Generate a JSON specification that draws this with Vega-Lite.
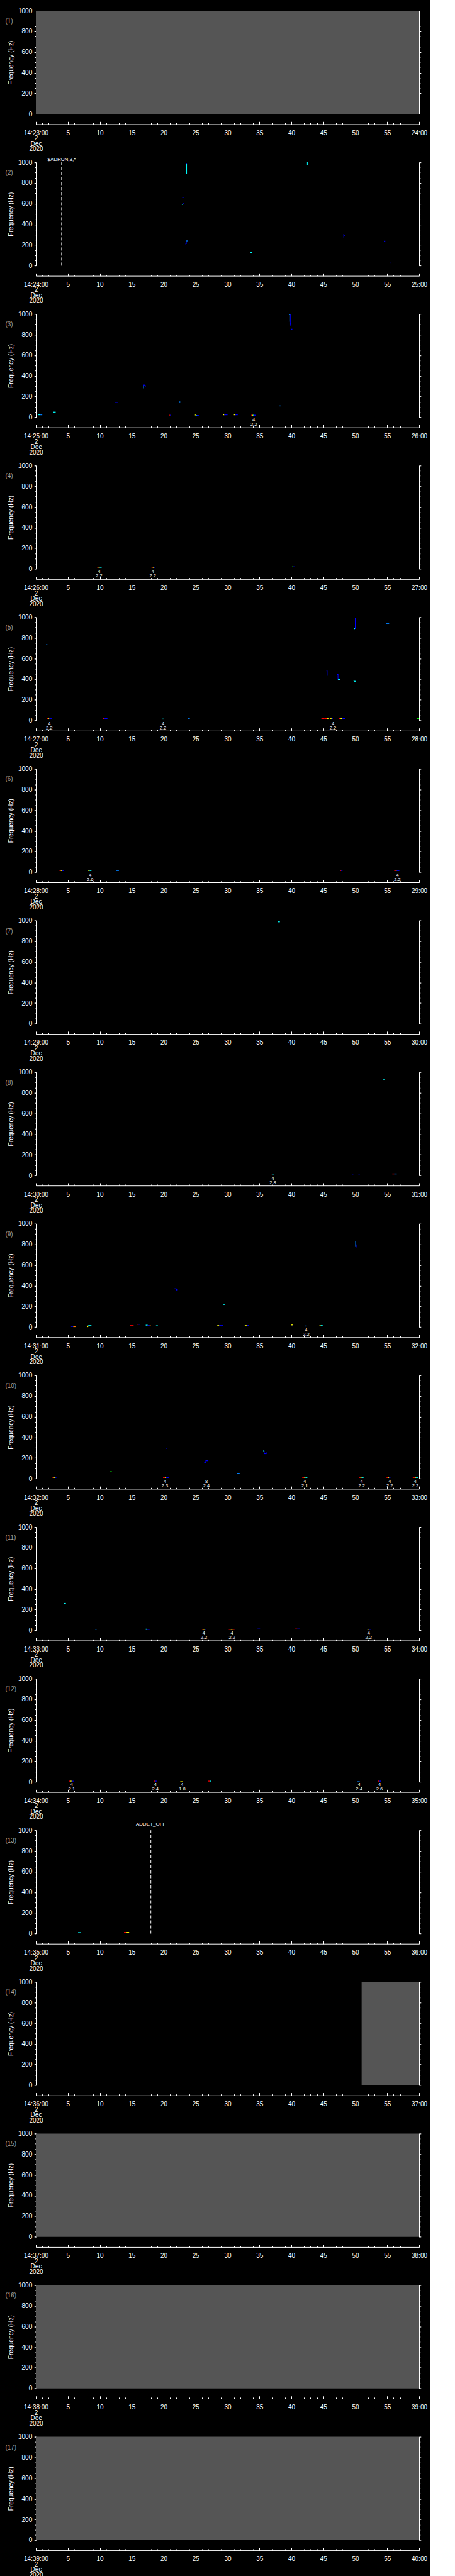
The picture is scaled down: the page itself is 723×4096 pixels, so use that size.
{"$schema":"https://vega.github.io/schema/vega-lite/v6.json","background":"black","padding":{"left":8,"top":12,"right":5,"bottom":5},"autosize":{"type":"pad"},"spacing":76.1,"bounds":"flush",
"config":{"numberFormat":"d","view":{"stroke":null},"text":{"color":"white","font":"Liberation Sans"},
"axis":{"grid":false,"domainColor":"white","tickColor":"white","labelColor":"white","titleColor":"white","labelFont":"Liberation Sans","labelFontSize":10,"titleFont":"Liberation Sans","titleFontSize":10.2,"titleFontWeight":"normal","domainWidth":1,"tickWidth":1},
"style":{"xmaj":{"tickSize":-4.2,"tickCount":12,"labelPadding":13,"offset":16.2,"labelFlush":false,"labelOverlap":false,"labelLineHeight":8.5,"labelBound":false},
"xmin":{"tickSize":-2.1,"tickCount":60,"labels":false,"offset":16.2,"domain":false},
"ymaj":{"tickSize":2.8,"tickCount":5,"labelPadding":3.5,"titlePadding":6},
"ymin":{"tickSize":1.8,"tickCount":20,"labels":false,"domain":false}}},
"datasets":{
"nodata":[{"p":1,"t":0,"t2":60,"f":0,"f2":1000},{"p":14,"t":51,"t2":60,"f":0,"f2":1000},{"p":15,"t":0,"t2":60,"f":0,"f2":1000},{"p":16,"t":0,"t2":60,"f":0,"f2":1000},{"p":17,"t":0,"t2":60,"f":0,"f2":1000}],
"spec":[
{"p":2,"t":23.55,"t2":23.65,"f":886,"f2":990,"v":3},{"p":2,"t":23.5,"t2":23.62,"f":985,"f2":995,"v":1},{"p":2,"t":42.45,"t2":42.55,"f":975,"f2":1000,"v":3},{"p":2,"t":22.9,"t2":23.15,"f":657,"f2":665,"v":1},{"p":2,"t":22.85,"t2":23.0,"f":590,"f2":598,"v":3},{"p":2,"t":23.0,"t2":23.15,"f":596,"f2":604,"v":1},{"p":2,"t":23.4,"t2":23.55,"f":206,"f2":214,"v":1},{"p":2,"t":23.5,"t2":23.6,"f":210,"f2":238,"v":1},{"p":2,"t":23.55,"t2":23.75,"f":236,"f2":244,"v":2},{"p":2,"t":33.6,"t2":33.8,"f":123,"f2":131,"v":3},{"p":2,"t":48.15,"t2":48.25,"f":272,"f2":306,"v":1},{"p":2,"t":48.2,"t2":48.4,"f":290,"f2":298,"v":1},{"p":2,"t":54.5,"t2":54.7,"f":233,"f2":241,"v":1},{"p":2,"t":55.55,"t2":55.65,"f":25,"f2":33,"v":1},
{"p":3,"t":0.4,"t2":0.7,"f":20,"f2":28,"v":3},{"p":3,"t":0.7,"t2":1.0,"f":20,"f2":28,"v":2},{"p":3,"t":2.7,"t2":3.1,"f":46,"f2":54,"v":3},{"p":3,"t":12.4,"t2":12.8,"f":138,"f2":146,"v":1},{"p":3,"t":16.8,"t2":16.9,"f":280,"f2":310,"v":2},{"p":3,"t":16.85,"t2":17.1,"f":308,"f2":316,"v":1},{"p":3,"t":17.05,"t2":17.2,"f":296,"f2":310,"v":1},{"p":3,"t":20.9,"t2":21.0,"f":17,"f2":25,"v":7},{"p":3,"t":21.0,"t2":21.1,"f":17,"f2":25,"v":1},{"p":3,"t":22.45,"t2":22.6,"f":145,"f2":153,"v":2},{"p":3,"t":24.9,"t2":25.05,"f":18,"f2":26,"v":5},{"p":3,"t":25.05,"t2":25.2,"f":14,"f2":22,"v":3},{"p":3,"t":25.2,"t2":25.5,"f":14,"f2":22,"v":1},{"p":3,"t":29.3,"t2":29.5,"f":20,"f2":28,"v":5},{"p":3,"t":29.5,"t2":30.0,"f":20,"f2":28,"v":1},{"p":3,"t":31.0,"t2":31.15,"f":20,"f2":28,"v":5},{"p":3,"t":31.15,"t2":31.25,"f":20,"f2":28,"v":3},{"p":3,"t":31.25,"t2":31.6,"f":20,"f2":28,"v":1},{"p":3,"t":33.7,"t2":33.85,"f":16,"f2":24,"v":7},{"p":3,"t":33.85,"t2":34.0,"f":16,"f2":24,"v":5},{"p":3,"t":34.0,"t2":34.15,"f":16,"f2":24,"v":3},{"p":3,"t":34.15,"t2":34.4,"f":16,"f2":24,"v":1},{"p":3,"t":38.1,"t2":38.4,"f":106,"f2":114,"v":2},{"p":3,"t":39.6,"t2":39.7,"f":925,"f2":935,"v":1},{"p":3,"t":39.65,"t2":39.72,"f":925,"f2":998,"v":2},{"p":3,"t":39.7,"t2":39.85,"f":990,"f2":998,"v":2},{"p":3,"t":39.8,"t2":39.88,"f":900,"f2":994,"v":1},{"p":3,"t":39.85,"t2":39.95,"f":880,"f2":910,"v":1},{"p":3,"t":39.92,"t2":40.0,"f":860,"f2":885,"v":1},{"p":3,"t":40.0,"t2":40.15,"f":848,"f2":856,"v":1},
{"p":4,"t":9.6,"t2":9.8,"f":12,"f2":20,"v":7},{"p":4,"t":9.8,"t2":10.0,"f":12,"f2":20,"v":5},{"p":4,"t":10.0,"t2":10.3,"f":12,"f2":20,"v":3},{"p":4,"t":18.1,"t2":18.3,"f":12,"f2":20,"v":7},{"p":4,"t":18.3,"t2":18.45,"f":12,"f2":20,"v":5},{"p":4,"t":18.45,"t2":18.7,"f":12,"f2":20,"v":1},{"p":4,"t":40.1,"t2":40.3,"f":16,"f2":24,"v":4},{"p":4,"t":40.3,"t2":40.6,"f":16,"f2":24,"v":1},
{"p":5,"t":1.6,"t2":1.8,"f":730,"f2":738,"v":2},{"p":5,"t":1.7,"t2":1.9,"f":14,"f2":22,"v":7},{"p":5,"t":1.9,"t2":2.1,"f":14,"f2":22,"v":5},{"p":5,"t":2.1,"t2":2.5,"f":14,"f2":22,"v":1},{"p":5,"t":10.5,"t2":10.75,"f":16,"f2":24,"v":7},{"p":5,"t":10.75,"t2":11.2,"f":16,"f2":24,"v":1},{"p":5,"t":19.7,"t2":20.1,"f":10,"f2":18,"v":3},{"p":5,"t":23.8,"t2":24.1,"f":14,"f2":22,"v":2},{"p":5,"t":45.5,"t2":45.6,"f":478,"f2":486,"v":1},{"p":5,"t":45.55,"t2":45.65,"f":434,"f2":484,"v":1},{"p":5,"t":47.1,"t2":47.3,"f":442,"f2":450,"v":1},{"p":5,"t":47.25,"t2":47.35,"f":395,"f2":448,"v":1},{"p":5,"t":47.3,"t2":47.6,"f":392,"f2":400,"v":3},{"p":5,"t":49.7,"t2":49.9,"f":386,"f2":394,"v":3},{"p":5,"t":49.85,"t2":50.1,"f":376,"f2":384,"v":3},{"p":5,"t":49.95,"t2":50.05,"f":888,"f2":996,"v":1},{"p":5,"t":49.85,"t2":49.95,"f":885,"f2":893,"v":3},{"p":5,"t":54.8,"t2":55.3,"f":936,"f2":944,"v":2},{"p":5,"t":44.7,"t2":45.2,"f":16,"f2":24,"v":7},{"p":5,"t":45.3,"t2":45.6,"f":16,"f2":24,"v":7},{"p":5,"t":45.6,"t2":45.8,"f":16,"f2":24,"v":5},{"p":5,"t":46.0,"t2":46.3,"f":14,"f2":22,"v":5},{"p":5,"t":46.3,"t2":46.5,"f":14,"f2":22,"v":1},{"p":5,"t":47.4,"t2":47.7,"f":16,"f2":24,"v":7},{"p":5,"t":47.7,"t2":48.0,"f":16,"f2":24,"v":5},{"p":5,"t":48.0,"t2":48.4,"f":16,"f2":24,"v":1},{"p":5,"t":59.6,"t2":60,"f":14,"f2":22,"v":4},
{"p":6,"t":3.7,"t2":3.9,"f":12,"f2":20,"v":7},{"p":6,"t":3.9,"t2":4.1,"f":12,"f2":20,"v":5},{"p":6,"t":4.1,"t2":4.4,"f":12,"f2":20,"v":1},{"p":6,"t":8.2,"t2":8.4,"f":12,"f2":20,"v":5},{"p":6,"t":8.4,"t2":8.7,"f":12,"f2":20,"v":3},{"p":6,"t":12.6,"t2":13.0,"f":12,"f2":20,"v":2},{"p":6,"t":47.6,"t2":47.8,"f":12,"f2":20,"v":7},{"p":6,"t":47.8,"t2":48.0,"f":12,"f2":20,"v":1},{"p":6,"t":56.1,"t2":56.35,"f":12,"f2":20,"v":7},{"p":6,"t":56.35,"t2":56.5,"f":12,"f2":20,"v":5},{"p":6,"t":56.5,"t2":56.9,"f":12,"f2":20,"v":1},
{"p":7,"t":37.9,"t2":38.2,"f":983,"f2":991,"v":3},
{"p":8,"t":54.3,"t2":54.6,"f":927,"f2":935,"v":3},{"p":8,"t":36.9,"t2":37.05,"f":10,"f2":18,"v":7},{"p":8,"t":37.05,"t2":37.3,"f":10,"f2":18,"v":3},{"p":8,"t":49.5,"t2":49.7,"f":2,"f2":8,"v":1},{"p":8,"t":50.5,"t2":50.7,"f":2,"f2":8,"v":1},{"p":8,"t":55.8,"t2":56.1,"f":11,"f2":19,"v":7},{"p":8,"t":56.1,"t2":56.5,"f":11,"f2":19,"v":2},
{"p":9,"t":50.0,"t2":50.1,"f":775,"f2":830,"v":2},{"p":9,"t":50.1,"t2":50.2,"f":770,"f2":800,"v":1},{"p":9,"t":21.7,"t2":22.0,"f":366,"f2":374,"v":1},{"p":9,"t":21.95,"t2":22.2,"f":355,"f2":366,"v":1},{"p":9,"t":29.3,"t2":29.6,"f":215,"f2":223,"v":3},{"p":9,"t":5.5,"t2":5.85,"f":2,"f2":10,"v":1},{"p":9,"t":5.85,"t2":6.2,"f":0,"f2":8,"v":6},{"p":9,"t":8.0,"t2":8.2,"f":0,"f2":14,"v":5},{"p":9,"t":8.2,"t2":8.7,"f":10,"f2":18,"v":3},{"p":9,"t":14.7,"t2":15.3,"f":10,"f2":18,"v":7},{"p":9,"t":15.8,"t2":16.0,"f":23,"f2":31,"v":7},{"p":9,"t":16.0,"t2":16.3,"f":23,"f2":31,"v":1},{"p":9,"t":17.2,"t2":17.5,"f":14,"f2":22,"v":3},{"p":9,"t":17.5,"t2":17.8,"f":10,"f2":18,"v":1},{"p":9,"t":17.8,"t2":18.0,"f":8,"f2":16,"v":6},{"p":9,"t":18.8,"t2":19.1,"f":8,"f2":16,"v":3},{"p":9,"t":28.4,"t2":28.7,"f":10,"f2":18,"v":5},{"p":9,"t":28.7,"t2":29.3,"f":10,"f2":18,"v":1},{"p":9,"t":32.7,"t2":33.0,"f":10,"f2":18,"v":5},{"p":9,"t":33.0,"t2":33.4,"f":10,"f2":18,"v":1},{"p":9,"t":40.0,"t2":40.2,"f":16,"f2":24,"v":5},{"p":9,"t":40.1,"t2":40.3,"f":6,"f2":14,"v":1},{"p":9,"t":42.1,"t2":42.4,"f":6,"f2":14,"v":2},{"p":9,"t":44.4,"t2":44.6,"f":10,"f2":18,"v":5},{"p":9,"t":44.6,"t2":44.9,"f":10,"f2":18,"v":3},
{"p":10,"t":2.6,"t2":2.8,"f":8,"f2":16,"v":7},{"p":10,"t":2.8,"t2":3.0,"f":8,"f2":16,"v":5},{"p":10,"t":3.0,"t2":3.2,"f":8,"f2":16,"v":1},{"p":10,"t":11.6,"t2":11.9,"f":63,"f2":71,"v":4},{"p":10,"t":20.4,"t2":20.5,"f":291,"f2":299,"v":1},{"p":10,"t":19.9,"t2":20.2,"f":8,"f2":16,"v":7},{"p":10,"t":20.2,"t2":20.4,"f":8,"f2":16,"v":5},{"p":10,"t":20.4,"t2":20.8,"f":8,"f2":16,"v":1},{"p":10,"t":26.35,"t2":26.6,"f":150,"f2":158,"v":1},{"p":10,"t":26.55,"t2":26.65,"f":150,"f2":178,"v":1},{"p":10,"t":26.6,"t2":27.0,"f":170,"f2":178,"v":1},{"p":10,"t":31.5,"t2":31.9,"f":48,"f2":56,"v":2},{"p":10,"t":35.6,"t2":35.75,"f":265,"f2":273,"v":3},{"p":10,"t":35.7,"t2":35.8,"f":240,"f2":270,"v":1},{"p":10,"t":35.75,"t2":36.1,"f":238,"f2":246,"v":1},{"p":10,"t":36.0,"t2":36.1,"f":238,"f2":258,"v":1},{"p":10,"t":41.7,"t2":42.0,"f":8,"f2":16,"v":7},{"p":10,"t":42.0,"t2":42.2,"f":8,"f2":16,"v":5},{"p":10,"t":42.2,"t2":42.5,"f":8,"f2":16,"v":3},{"p":10,"t":50.6,"t2":50.8,"f":8,"f2":16,"v":7},{"p":10,"t":50.8,"t2":51.0,"f":8,"f2":16,"v":5},{"p":10,"t":51.0,"t2":51.3,"f":8,"f2":16,"v":3},{"p":10,"t":54.9,"t2":55.1,"f":8,"f2":16,"v":7},{"p":10,"t":55.1,"t2":55.3,"f":8,"f2":16,"v":5},{"p":10,"t":55.3,"t2":55.5,"f":8,"f2":16,"v":1},{"p":10,"t":59.0,"t2":59.3,"f":8,"f2":16,"v":7},{"p":10,"t":59.3,"t2":59.5,"f":8,"f2":16,"v":5},{"p":10,"t":59.5,"t2":59.8,"f":8,"f2":16,"v":3},
{"p":11,"t":4.4,"t2":4.7,"f":254,"f2":264,"v":3},{"p":11,"t":9.3,"t2":9.5,"f":5,"f2":13,"v":2},{"p":11,"t":17.2,"t2":17.4,"f":5,"f2":15,"v":3},{"p":11,"t":17.4,"t2":17.8,"f":5,"f2":13,"v":1},{"p":11,"t":26.0,"t2":26.2,"f":5,"f2":13,"v":7},{"p":11,"t":26.2,"t2":26.4,"f":5,"f2":13,"v":5},{"p":11,"t":26.4,"t2":26.6,"f":5,"f2":13,"v":1},{"p":11,"t":30.2,"t2":30.5,"f":5,"f2":13,"v":7},{"p":11,"t":30.5,"t2":30.8,"f":5,"f2":13,"v":5},{"p":11,"t":30.8,"t2":31.1,"f":5,"f2":13,"v":7},{"p":11,"t":34.7,"t2":35.1,"f":8,"f2":16,"v":1},{"p":11,"t":40.6,"t2":40.9,"f":8,"f2":16,"v":7},{"p":11,"t":40.9,"t2":41.3,"f":8,"f2":16,"v":1},{"p":11,"t":51.9,"t2":52.1,"f":5,"f2":13,"v":5},{"p":11,"t":52.1,"t2":52.4,"f":5,"f2":13,"v":1},
{"p":12,"t":5.2,"t2":5.4,"f":4,"f2":12,"v":7},{"p":12,"t":5.4,"t2":5.6,"f":4,"f2":12,"v":5},{"p":12,"t":5.6,"t2":5.9,"f":4,"f2":12,"v":1},{"p":12,"t":18.5,"t2":18.7,"f":4,"f2":12,"v":7},{"p":12,"t":18.7,"t2":18.9,"f":4,"f2":12,"v":1},{"p":12,"t":22.6,"t2":23.0,"f":0,"f2":6,"v":5},{"p":12,"t":27.0,"t2":27.2,"f":4,"f2":12,"v":7},{"p":12,"t":27.2,"t2":27.4,"f":4,"f2":12,"v":3},{"p":12,"t":50.35,"t2":50.7,"f":0,"f2":6,"v":2},{"p":12,"t":53.5,"t2":53.7,"f":4,"f2":12,"v":7},{"p":12,"t":53.7,"t2":54.0,"f":4,"f2":12,"v":1},
{"p":13,"t":6.6,"t2":7.0,"f":5,"f2":13,"v":3},{"p":13,"t":13.8,"t2":14.2,"f":7,"f2":15,"v":7},{"p":13,"t":14.2,"t2":14.6,"f":7,"f2":15,"v":5}],
"notes":[{"p":3,"t":34.1,"s":"4\n2.2"},{"p":4,"t":9.9,"s":"4\n2.2"},{"p":4,"t":18.3,"s":"4\n2.2"},{"p":5,"t":2.1,"s":"4\n2.2"},{"p":5,"t":19.9,"s":"4\n2.2"},{"p":5,"t":46.5,"s":"4\n2.2"},{"p":6,"t":8.5,"s":"4\n2.6"},{"p":6,"t":56.6,"s":"4\n2.2"},{"p":8,"t":37.1,"s":"4\n2.8"},{"p":9,"t":42.3,"s":"4\n2.2"},{"p":10,"t":20.2,"s":"4\n2.3"},{"p":10,"t":26.7,"s":"8\n2.4"},{"p":10,"t":42.1,"s":"4\n2.1"},{"p":10,"t":51.0,"s":"4\n2.2"},{"p":10,"t":55.4,"s":"4\n2.2"},{"p":10,"t":59.4,"s":"4\n2.2"},{"p":11,"t":26.3,"s":"4\n2.2"},{"p":11,"t":30.7,"s":"4\n2.2"},{"p":11,"t":52.1,"s":"4\n2.2"},{"p":12,"t":5.6,"s":"4\n2.1"},{"p":12,"t":18.7,"s":"4\n2.4"},{"p":12,"t":22.9,"s":"4\n1.8"},{"p":12,"t":50.6,"s":"4\n2.4"},{"p":12,"t":53.8,"s":"4\n2.6"}],
"cmds":[{"p":2,"t":4.03,"s":"$ADRUN,3,*"},{"p":13,"t":18.0,"s":"ADDET_OFF"}],
"plab":[{"p":1,"s":"(1)"},{"p":2,"s":"(2)"},{"p":3,"s":"(3)"},{"p":4,"s":"(4)"},{"p":5,"s":"(5)"},{"p":6,"s":"(6)"},{"p":7,"s":"(7)"},{"p":8,"s":"(8)"},{"p":9,"s":"(9)"},{"p":10,"s":"(10)"},{"p":11,"s":"(11)"},{"p":12,"s":"(12)"},{"p":13,"s":"(13)"},{"p":14,"s":"(14)"},{"p":15,"s":"(15)"},{"p":16,"s":"(16)"},{"p":17,"s":"(17)"}]},
"vconcat":[
{"width":609,"height":164.3,"resolve":{"axis":{"x":"independent","y":"independent"}},"layer":[
{"data":{"name":"nodata"},"transform":[{"filter":"datum.p==1"}],"mark":{"type":"rect","color":"#555555"},"encoding":{"x":{"field":"t","type":"quantitative","scale":{"domain":[0,60],"nice":false,"zero":false},"axis":{"orient":"bottom","style":"xmaj","title":null,"labelFlush":false,"labelOverlap":false,"labelExpr":"datum.value==0?['14:23:00','2','Dec','2020']:datum.value==60?'24:00':datum.label"}},"x2":{"field":"t2"},"y":{"field":"f","type":"quantitative","scale":{"domain":[0,1000],"nice":false,"zero":false},"axis":{"orient":"left","style":"ymaj","title":"Frequency (Hz)"}},"y2":{"field":"f2"}}},
{"data":{"name":"spec"},"transform":[{"filter":"datum.p==1"}],"mark":"rect","encoding":{"x":{"field":"t","type":"quantitative","axis":{"orient":"bottom","style":"xmin","title":null}},"x2":{"field":"t2"},"y":{"field":"f","type":"quantitative","axis":{"orient":"left","style":"ymin","title":null}},"y2":{"field":"f2"},"color":{"field":"v","type":"ordinal","scale":{"domain":[1,2,3,4,5,6,7],"range":["#0000ff","#0080ff","#00ffff","#00ff00","#ffff00","#ff8000","#ff0000"]},"legend":null}}},
{"data":{"name":"notes"},"transform":[{"filter":"datum.p==1"}],"mark":{"type":"text","baseline":"top","lineBreak":"\n","fontSize":7.5,"lineHeight":7},"encoding":{"x":{"field":"t","type":"quantitative","axis":null},"y":{"datum":-5,"type":"quantitative","axis":{"orient":"right","style":"ymaj","labels":false,"title":null}},"text":{"field":"s"}}},
{"data":{"name":"cmds"},"transform":[{"filter":"datum.p==1"}],"mark":{"type":"rule","strokeDash":[5,3],"color":"white","strokeWidth":1},"encoding":{"x":{"field":"t","type":"quantitative","axis":null},"y":{"datum":0,"type":"quantitative","axis":{"orient":"right","style":"ymin","title":null}},"y2":{"datum":1000}}},
{"data":{"name":"cmds"},"transform":[{"filter":"datum.p==1"}],"mark":{"type":"text","baseline":"alphabetic","fontSize":8},"encoding":{"x":{"field":"t","type":"quantitative","axis":null},"y":{"datum":1014,"type":"quantitative","axis":null},"text":{"field":"s"}}},
{"data":{"name":"plab"},"transform":[{"filter":"datum.p==1"}],"mark":{"type":"text","align":"left","baseline":"middle","fontSize":10,"color":"#a0a0a0"},"encoding":{"x":{"datum":-4.79,"type":"quantitative","axis":null},"y":{"datum":897,"type":"quantitative","axis":null},"text":{"field":"s"}}}]},
{"width":609,"height":164.3,"resolve":{"axis":{"x":"independent","y":"independent"}},"layer":[
{"data":{"name":"nodata"},"transform":[{"filter":"datum.p==2"}],"mark":{"type":"rect","color":"#555555"},"encoding":{"x":{"field":"t","type":"quantitative","scale":{"domain":[0,60],"nice":false,"zero":false},"axis":{"orient":"bottom","style":"xmaj","title":null,"labelFlush":false,"labelOverlap":false,"labelExpr":"datum.value==0?['14:24:00','2','Dec','2020']:datum.value==60?'25:00':datum.label"}},"x2":{"field":"t2"},"y":{"field":"f","type":"quantitative","scale":{"domain":[0,1000],"nice":false,"zero":false},"axis":{"orient":"left","style":"ymaj","title":"Frequency (Hz)"}},"y2":{"field":"f2"}}},
{"data":{"name":"spec"},"transform":[{"filter":"datum.p==2"}],"mark":"rect","encoding":{"x":{"field":"t","type":"quantitative","axis":{"orient":"bottom","style":"xmin","title":null}},"x2":{"field":"t2"},"y":{"field":"f","type":"quantitative","axis":{"orient":"left","style":"ymin","title":null}},"y2":{"field":"f2"},"color":{"field":"v","type":"ordinal","scale":{"domain":[1,2,3,4,5,6,7],"range":["#0000ff","#0080ff","#00ffff","#00ff00","#ffff00","#ff8000","#ff0000"]},"legend":null}}},
{"data":{"name":"notes"},"transform":[{"filter":"datum.p==2"}],"mark":{"type":"text","baseline":"top","lineBreak":"\n","fontSize":7.5,"lineHeight":7},"encoding":{"x":{"field":"t","type":"quantitative","axis":null},"y":{"datum":-5,"type":"quantitative","axis":{"orient":"right","style":"ymaj","labels":false,"title":null}},"text":{"field":"s"}}},
{"data":{"name":"cmds"},"transform":[{"filter":"datum.p==2"}],"mark":{"type":"rule","strokeDash":[5,3],"color":"white","strokeWidth":1},"encoding":{"x":{"field":"t","type":"quantitative","axis":null},"y":{"datum":0,"type":"quantitative","axis":{"orient":"right","style":"ymin","title":null}},"y2":{"datum":1000}}},
{"data":{"name":"cmds"},"transform":[{"filter":"datum.p==2"}],"mark":{"type":"text","baseline":"alphabetic","fontSize":8},"encoding":{"x":{"field":"t","type":"quantitative","axis":null},"y":{"datum":1014,"type":"quantitative","axis":null},"text":{"field":"s"}}},
{"data":{"name":"plab"},"transform":[{"filter":"datum.p==2"}],"mark":{"type":"text","align":"left","baseline":"middle","fontSize":10,"color":"#a0a0a0"},"encoding":{"x":{"datum":-4.79,"type":"quantitative","axis":null},"y":{"datum":897,"type":"quantitative","axis":null},"text":{"field":"s"}}}]},
{"width":609,"height":164.3,"resolve":{"axis":{"x":"independent","y":"independent"}},"layer":[
{"data":{"name":"nodata"},"transform":[{"filter":"datum.p==3"}],"mark":{"type":"rect","color":"#555555"},"encoding":{"x":{"field":"t","type":"quantitative","scale":{"domain":[0,60],"nice":false,"zero":false},"axis":{"orient":"bottom","style":"xmaj","title":null,"labelFlush":false,"labelOverlap":false,"labelExpr":"datum.value==0?['14:25:00','2','Dec','2020']:datum.value==60?'26:00':datum.label"}},"x2":{"field":"t2"},"y":{"field":"f","type":"quantitative","scale":{"domain":[0,1000],"nice":false,"zero":false},"axis":{"orient":"left","style":"ymaj","title":"Frequency (Hz)"}},"y2":{"field":"f2"}}},
{"data":{"name":"spec"},"transform":[{"filter":"datum.p==3"}],"mark":"rect","encoding":{"x":{"field":"t","type":"quantitative","axis":{"orient":"bottom","style":"xmin","title":null}},"x2":{"field":"t2"},"y":{"field":"f","type":"quantitative","axis":{"orient":"left","style":"ymin","title":null}},"y2":{"field":"f2"},"color":{"field":"v","type":"ordinal","scale":{"domain":[1,2,3,4,5,6,7],"range":["#0000ff","#0080ff","#00ffff","#00ff00","#ffff00","#ff8000","#ff0000"]},"legend":null}}},
{"data":{"name":"notes"},"transform":[{"filter":"datum.p==3"}],"mark":{"type":"text","baseline":"top","lineBreak":"\n","fontSize":7.5,"lineHeight":7},"encoding":{"x":{"field":"t","type":"quantitative","axis":null},"y":{"datum":-5,"type":"quantitative","axis":{"orient":"right","style":"ymaj","labels":false,"title":null}},"text":{"field":"s"}}},
{"data":{"name":"cmds"},"transform":[{"filter":"datum.p==3"}],"mark":{"type":"rule","strokeDash":[5,3],"color":"white","strokeWidth":1},"encoding":{"x":{"field":"t","type":"quantitative","axis":null},"y":{"datum":0,"type":"quantitative","axis":{"orient":"right","style":"ymin","title":null}},"y2":{"datum":1000}}},
{"data":{"name":"cmds"},"transform":[{"filter":"datum.p==3"}],"mark":{"type":"text","baseline":"alphabetic","fontSize":8},"encoding":{"x":{"field":"t","type":"quantitative","axis":null},"y":{"datum":1014,"type":"quantitative","axis":null},"text":{"field":"s"}}},
{"data":{"name":"plab"},"transform":[{"filter":"datum.p==3"}],"mark":{"type":"text","align":"left","baseline":"middle","fontSize":10,"color":"#a0a0a0"},"encoding":{"x":{"datum":-4.79,"type":"quantitative","axis":null},"y":{"datum":897,"type":"quantitative","axis":null},"text":{"field":"s"}}}]},
{"width":609,"height":164.3,"resolve":{"axis":{"x":"independent","y":"independent"}},"layer":[
{"data":{"name":"nodata"},"transform":[{"filter":"datum.p==4"}],"mark":{"type":"rect","color":"#555555"},"encoding":{"x":{"field":"t","type":"quantitative","scale":{"domain":[0,60],"nice":false,"zero":false},"axis":{"orient":"bottom","style":"xmaj","title":null,"labelFlush":false,"labelOverlap":false,"labelExpr":"datum.value==0?['14:26:00','2','Dec','2020']:datum.value==60?'27:00':datum.label"}},"x2":{"field":"t2"},"y":{"field":"f","type":"quantitative","scale":{"domain":[0,1000],"nice":false,"zero":false},"axis":{"orient":"left","style":"ymaj","title":"Frequency (Hz)"}},"y2":{"field":"f2"}}},
{"data":{"name":"spec"},"transform":[{"filter":"datum.p==4"}],"mark":"rect","encoding":{"x":{"field":"t","type":"quantitative","axis":{"orient":"bottom","style":"xmin","title":null}},"x2":{"field":"t2"},"y":{"field":"f","type":"quantitative","axis":{"orient":"left","style":"ymin","title":null}},"y2":{"field":"f2"},"color":{"field":"v","type":"ordinal","scale":{"domain":[1,2,3,4,5,6,7],"range":["#0000ff","#0080ff","#00ffff","#00ff00","#ffff00","#ff8000","#ff0000"]},"legend":null}}},
{"data":{"name":"notes"},"transform":[{"filter":"datum.p==4"}],"mark":{"type":"text","baseline":"top","lineBreak":"\n","fontSize":7.5,"lineHeight":7},"encoding":{"x":{"field":"t","type":"quantitative","axis":null},"y":{"datum":-5,"type":"quantitative","axis":{"orient":"right","style":"ymaj","labels":false,"title":null}},"text":{"field":"s"}}},
{"data":{"name":"cmds"},"transform":[{"filter":"datum.p==4"}],"mark":{"type":"rule","strokeDash":[5,3],"color":"white","strokeWidth":1},"encoding":{"x":{"field":"t","type":"quantitative","axis":null},"y":{"datum":0,"type":"quantitative","axis":{"orient":"right","style":"ymin","title":null}},"y2":{"datum":1000}}},
{"data":{"name":"cmds"},"transform":[{"filter":"datum.p==4"}],"mark":{"type":"text","baseline":"alphabetic","fontSize":8},"encoding":{"x":{"field":"t","type":"quantitative","axis":null},"y":{"datum":1014,"type":"quantitative","axis":null},"text":{"field":"s"}}},
{"data":{"name":"plab"},"transform":[{"filter":"datum.p==4"}],"mark":{"type":"text","align":"left","baseline":"middle","fontSize":10,"color":"#a0a0a0"},"encoding":{"x":{"datum":-4.79,"type":"quantitative","axis":null},"y":{"datum":897,"type":"quantitative","axis":null},"text":{"field":"s"}}}]},
{"width":609,"height":164.3,"resolve":{"axis":{"x":"independent","y":"independent"}},"layer":[
{"data":{"name":"nodata"},"transform":[{"filter":"datum.p==5"}],"mark":{"type":"rect","color":"#555555"},"encoding":{"x":{"field":"t","type":"quantitative","scale":{"domain":[0,60],"nice":false,"zero":false},"axis":{"orient":"bottom","style":"xmaj","title":null,"labelFlush":false,"labelOverlap":false,"labelExpr":"datum.value==0?['14:27:00','2','Dec','2020']:datum.value==60?'28:00':datum.label"}},"x2":{"field":"t2"},"y":{"field":"f","type":"quantitative","scale":{"domain":[0,1000],"nice":false,"zero":false},"axis":{"orient":"left","style":"ymaj","title":"Frequency (Hz)"}},"y2":{"field":"f2"}}},
{"data":{"name":"spec"},"transform":[{"filter":"datum.p==5"}],"mark":"rect","encoding":{"x":{"field":"t","type":"quantitative","axis":{"orient":"bottom","style":"xmin","title":null}},"x2":{"field":"t2"},"y":{"field":"f","type":"quantitative","axis":{"orient":"left","style":"ymin","title":null}},"y2":{"field":"f2"},"color":{"field":"v","type":"ordinal","scale":{"domain":[1,2,3,4,5,6,7],"range":["#0000ff","#0080ff","#00ffff","#00ff00","#ffff00","#ff8000","#ff0000"]},"legend":null}}},
{"data":{"name":"notes"},"transform":[{"filter":"datum.p==5"}],"mark":{"type":"text","baseline":"top","lineBreak":"\n","fontSize":7.5,"lineHeight":7},"encoding":{"x":{"field":"t","type":"quantitative","axis":null},"y":{"datum":-5,"type":"quantitative","axis":{"orient":"right","style":"ymaj","labels":false,"title":null}},"text":{"field":"s"}}},
{"data":{"name":"cmds"},"transform":[{"filter":"datum.p==5"}],"mark":{"type":"rule","strokeDash":[5,3],"color":"white","strokeWidth":1},"encoding":{"x":{"field":"t","type":"quantitative","axis":null},"y":{"datum":0,"type":"quantitative","axis":{"orient":"right","style":"ymin","title":null}},"y2":{"datum":1000}}},
{"data":{"name":"cmds"},"transform":[{"filter":"datum.p==5"}],"mark":{"type":"text","baseline":"alphabetic","fontSize":8},"encoding":{"x":{"field":"t","type":"quantitative","axis":null},"y":{"datum":1014,"type":"quantitative","axis":null},"text":{"field":"s"}}},
{"data":{"name":"plab"},"transform":[{"filter":"datum.p==5"}],"mark":{"type":"text","align":"left","baseline":"middle","fontSize":10,"color":"#a0a0a0"},"encoding":{"x":{"datum":-4.79,"type":"quantitative","axis":null},"y":{"datum":897,"type":"quantitative","axis":null},"text":{"field":"s"}}}]},
{"width":609,"height":164.3,"resolve":{"axis":{"x":"independent","y":"independent"}},"layer":[
{"data":{"name":"nodata"},"transform":[{"filter":"datum.p==6"}],"mark":{"type":"rect","color":"#555555"},"encoding":{"x":{"field":"t","type":"quantitative","scale":{"domain":[0,60],"nice":false,"zero":false},"axis":{"orient":"bottom","style":"xmaj","title":null,"labelFlush":false,"labelOverlap":false,"labelExpr":"datum.value==0?['14:28:00','2','Dec','2020']:datum.value==60?'29:00':datum.label"}},"x2":{"field":"t2"},"y":{"field":"f","type":"quantitative","scale":{"domain":[0,1000],"nice":false,"zero":false},"axis":{"orient":"left","style":"ymaj","title":"Frequency (Hz)"}},"y2":{"field":"f2"}}},
{"data":{"name":"spec"},"transform":[{"filter":"datum.p==6"}],"mark":"rect","encoding":{"x":{"field":"t","type":"quantitative","axis":{"orient":"bottom","style":"xmin","title":null}},"x2":{"field":"t2"},"y":{"field":"f","type":"quantitative","axis":{"orient":"left","style":"ymin","title":null}},"y2":{"field":"f2"},"color":{"field":"v","type":"ordinal","scale":{"domain":[1,2,3,4,5,6,7],"range":["#0000ff","#0080ff","#00ffff","#00ff00","#ffff00","#ff8000","#ff0000"]},"legend":null}}},
{"data":{"name":"notes"},"transform":[{"filter":"datum.p==6"}],"mark":{"type":"text","baseline":"top","lineBreak":"\n","fontSize":7.5,"lineHeight":7},"encoding":{"x":{"field":"t","type":"quantitative","axis":null},"y":{"datum":-5,"type":"quantitative","axis":{"orient":"right","style":"ymaj","labels":false,"title":null}},"text":{"field":"s"}}},
{"data":{"name":"cmds"},"transform":[{"filter":"datum.p==6"}],"mark":{"type":"rule","strokeDash":[5,3],"color":"white","strokeWidth":1},"encoding":{"x":{"field":"t","type":"quantitative","axis":null},"y":{"datum":0,"type":"quantitative","axis":{"orient":"right","style":"ymin","title":null}},"y2":{"datum":1000}}},
{"data":{"name":"cmds"},"transform":[{"filter":"datum.p==6"}],"mark":{"type":"text","baseline":"alphabetic","fontSize":8},"encoding":{"x":{"field":"t","type":"quantitative","axis":null},"y":{"datum":1014,"type":"quantitative","axis":null},"text":{"field":"s"}}},
{"data":{"name":"plab"},"transform":[{"filter":"datum.p==6"}],"mark":{"type":"text","align":"left","baseline":"middle","fontSize":10,"color":"#a0a0a0"},"encoding":{"x":{"datum":-4.79,"type":"quantitative","axis":null},"y":{"datum":897,"type":"quantitative","axis":null},"text":{"field":"s"}}}]},
{"width":609,"height":164.3,"resolve":{"axis":{"x":"independent","y":"independent"}},"layer":[
{"data":{"name":"nodata"},"transform":[{"filter":"datum.p==7"}],"mark":{"type":"rect","color":"#555555"},"encoding":{"x":{"field":"t","type":"quantitative","scale":{"domain":[0,60],"nice":false,"zero":false},"axis":{"orient":"bottom","style":"xmaj","title":null,"labelFlush":false,"labelOverlap":false,"labelExpr":"datum.value==0?['14:29:00','2','Dec','2020']:datum.value==60?'30:00':datum.label"}},"x2":{"field":"t2"},"y":{"field":"f","type":"quantitative","scale":{"domain":[0,1000],"nice":false,"zero":false},"axis":{"orient":"left","style":"ymaj","title":"Frequency (Hz)"}},"y2":{"field":"f2"}}},
{"data":{"name":"spec"},"transform":[{"filter":"datum.p==7"}],"mark":"rect","encoding":{"x":{"field":"t","type":"quantitative","axis":{"orient":"bottom","style":"xmin","title":null}},"x2":{"field":"t2"},"y":{"field":"f","type":"quantitative","axis":{"orient":"left","style":"ymin","title":null}},"y2":{"field":"f2"},"color":{"field":"v","type":"ordinal","scale":{"domain":[1,2,3,4,5,6,7],"range":["#0000ff","#0080ff","#00ffff","#00ff00","#ffff00","#ff8000","#ff0000"]},"legend":null}}},
{"data":{"name":"notes"},"transform":[{"filter":"datum.p==7"}],"mark":{"type":"text","baseline":"top","lineBreak":"\n","fontSize":7.5,"lineHeight":7},"encoding":{"x":{"field":"t","type":"quantitative","axis":null},"y":{"datum":-5,"type":"quantitative","axis":{"orient":"right","style":"ymaj","labels":false,"title":null}},"text":{"field":"s"}}},
{"data":{"name":"cmds"},"transform":[{"filter":"datum.p==7"}],"mark":{"type":"rule","strokeDash":[5,3],"color":"white","strokeWidth":1},"encoding":{"x":{"field":"t","type":"quantitative","axis":null},"y":{"datum":0,"type":"quantitative","axis":{"orient":"right","style":"ymin","title":null}},"y2":{"datum":1000}}},
{"data":{"name":"cmds"},"transform":[{"filter":"datum.p==7"}],"mark":{"type":"text","baseline":"alphabetic","fontSize":8},"encoding":{"x":{"field":"t","type":"quantitative","axis":null},"y":{"datum":1014,"type":"quantitative","axis":null},"text":{"field":"s"}}},
{"data":{"name":"plab"},"transform":[{"filter":"datum.p==7"}],"mark":{"type":"text","align":"left","baseline":"middle","fontSize":10,"color":"#a0a0a0"},"encoding":{"x":{"datum":-4.79,"type":"quantitative","axis":null},"y":{"datum":897,"type":"quantitative","axis":null},"text":{"field":"s"}}}]},
{"width":609,"height":164.3,"resolve":{"axis":{"x":"independent","y":"independent"}},"layer":[
{"data":{"name":"nodata"},"transform":[{"filter":"datum.p==8"}],"mark":{"type":"rect","color":"#555555"},"encoding":{"x":{"field":"t","type":"quantitative","scale":{"domain":[0,60],"nice":false,"zero":false},"axis":{"orient":"bottom","style":"xmaj","title":null,"labelFlush":false,"labelOverlap":false,"labelExpr":"datum.value==0?['14:30:00','2','Dec','2020']:datum.value==60?'31:00':datum.label"}},"x2":{"field":"t2"},"y":{"field":"f","type":"quantitative","scale":{"domain":[0,1000],"nice":false,"zero":false},"axis":{"orient":"left","style":"ymaj","title":"Frequency (Hz)"}},"y2":{"field":"f2"}}},
{"data":{"name":"spec"},"transform":[{"filter":"datum.p==8"}],"mark":"rect","encoding":{"x":{"field":"t","type":"quantitative","axis":{"orient":"bottom","style":"xmin","title":null}},"x2":{"field":"t2"},"y":{"field":"f","type":"quantitative","axis":{"orient":"left","style":"ymin","title":null}},"y2":{"field":"f2"},"color":{"field":"v","type":"ordinal","scale":{"domain":[1,2,3,4,5,6,7],"range":["#0000ff","#0080ff","#00ffff","#00ff00","#ffff00","#ff8000","#ff0000"]},"legend":null}}},
{"data":{"name":"notes"},"transform":[{"filter":"datum.p==8"}],"mark":{"type":"text","baseline":"top","lineBreak":"\n","fontSize":7.5,"lineHeight":7},"encoding":{"x":{"field":"t","type":"quantitative","axis":null},"y":{"datum":-5,"type":"quantitative","axis":{"orient":"right","style":"ymaj","labels":false,"title":null}},"text":{"field":"s"}}},
{"data":{"name":"cmds"},"transform":[{"filter":"datum.p==8"}],"mark":{"type":"rule","strokeDash":[5,3],"color":"white","strokeWidth":1},"encoding":{"x":{"field":"t","type":"quantitative","axis":null},"y":{"datum":0,"type":"quantitative","axis":{"orient":"right","style":"ymin","title":null}},"y2":{"datum":1000}}},
{"data":{"name":"cmds"},"transform":[{"filter":"datum.p==8"}],"mark":{"type":"text","baseline":"alphabetic","fontSize":8},"encoding":{"x":{"field":"t","type":"quantitative","axis":null},"y":{"datum":1014,"type":"quantitative","axis":null},"text":{"field":"s"}}},
{"data":{"name":"plab"},"transform":[{"filter":"datum.p==8"}],"mark":{"type":"text","align":"left","baseline":"middle","fontSize":10,"color":"#a0a0a0"},"encoding":{"x":{"datum":-4.79,"type":"quantitative","axis":null},"y":{"datum":897,"type":"quantitative","axis":null},"text":{"field":"s"}}}]},
{"width":609,"height":164.3,"resolve":{"axis":{"x":"independent","y":"independent"}},"layer":[
{"data":{"name":"nodata"},"transform":[{"filter":"datum.p==9"}],"mark":{"type":"rect","color":"#555555"},"encoding":{"x":{"field":"t","type":"quantitative","scale":{"domain":[0,60],"nice":false,"zero":false},"axis":{"orient":"bottom","style":"xmaj","title":null,"labelFlush":false,"labelOverlap":false,"labelExpr":"datum.value==0?['14:31:00','2','Dec','2020']:datum.value==60?'32:00':datum.label"}},"x2":{"field":"t2"},"y":{"field":"f","type":"quantitative","scale":{"domain":[0,1000],"nice":false,"zero":false},"axis":{"orient":"left","style":"ymaj","title":"Frequency (Hz)"}},"y2":{"field":"f2"}}},
{"data":{"name":"spec"},"transform":[{"filter":"datum.p==9"}],"mark":"rect","encoding":{"x":{"field":"t","type":"quantitative","axis":{"orient":"bottom","style":"xmin","title":null}},"x2":{"field":"t2"},"y":{"field":"f","type":"quantitative","axis":{"orient":"left","style":"ymin","title":null}},"y2":{"field":"f2"},"color":{"field":"v","type":"ordinal","scale":{"domain":[1,2,3,4,5,6,7],"range":["#0000ff","#0080ff","#00ffff","#00ff00","#ffff00","#ff8000","#ff0000"]},"legend":null}}},
{"data":{"name":"notes"},"transform":[{"filter":"datum.p==9"}],"mark":{"type":"text","baseline":"top","lineBreak":"\n","fontSize":7.5,"lineHeight":7},"encoding":{"x":{"field":"t","type":"quantitative","axis":null},"y":{"datum":-5,"type":"quantitative","axis":{"orient":"right","style":"ymaj","labels":false,"title":null}},"text":{"field":"s"}}},
{"data":{"name":"cmds"},"transform":[{"filter":"datum.p==9"}],"mark":{"type":"rule","strokeDash":[5,3],"color":"white","strokeWidth":1},"encoding":{"x":{"field":"t","type":"quantitative","axis":null},"y":{"datum":0,"type":"quantitative","axis":{"orient":"right","style":"ymin","title":null}},"y2":{"datum":1000}}},
{"data":{"name":"cmds"},"transform":[{"filter":"datum.p==9"}],"mark":{"type":"text","baseline":"alphabetic","fontSize":8},"encoding":{"x":{"field":"t","type":"quantitative","axis":null},"y":{"datum":1014,"type":"quantitative","axis":null},"text":{"field":"s"}}},
{"data":{"name":"plab"},"transform":[{"filter":"datum.p==9"}],"mark":{"type":"text","align":"left","baseline":"middle","fontSize":10,"color":"#a0a0a0"},"encoding":{"x":{"datum":-4.79,"type":"quantitative","axis":null},"y":{"datum":897,"type":"quantitative","axis":null},"text":{"field":"s"}}}]},
{"width":609,"height":164.3,"resolve":{"axis":{"x":"independent","y":"independent"}},"layer":[
{"data":{"name":"nodata"},"transform":[{"filter":"datum.p==10"}],"mark":{"type":"rect","color":"#555555"},"encoding":{"x":{"field":"t","type":"quantitative","scale":{"domain":[0,60],"nice":false,"zero":false},"axis":{"orient":"bottom","style":"xmaj","title":null,"labelFlush":false,"labelOverlap":false,"labelExpr":"datum.value==0?['14:32:00','2','Dec','2020']:datum.value==60?'33:00':datum.label"}},"x2":{"field":"t2"},"y":{"field":"f","type":"quantitative","scale":{"domain":[0,1000],"nice":false,"zero":false},"axis":{"orient":"left","style":"ymaj","title":"Frequency (Hz)"}},"y2":{"field":"f2"}}},
{"data":{"name":"spec"},"transform":[{"filter":"datum.p==10"}],"mark":"rect","encoding":{"x":{"field":"t","type":"quantitative","axis":{"orient":"bottom","style":"xmin","title":null}},"x2":{"field":"t2"},"y":{"field":"f","type":"quantitative","axis":{"orient":"left","style":"ymin","title":null}},"y2":{"field":"f2"},"color":{"field":"v","type":"ordinal","scale":{"domain":[1,2,3,4,5,6,7],"range":["#0000ff","#0080ff","#00ffff","#00ff00","#ffff00","#ff8000","#ff0000"]},"legend":null}}},
{"data":{"name":"notes"},"transform":[{"filter":"datum.p==10"}],"mark":{"type":"text","baseline":"top","lineBreak":"\n","fontSize":7.5,"lineHeight":7},"encoding":{"x":{"field":"t","type":"quantitative","axis":null},"y":{"datum":-5,"type":"quantitative","axis":{"orient":"right","style":"ymaj","labels":false,"title":null}},"text":{"field":"s"}}},
{"data":{"name":"cmds"},"transform":[{"filter":"datum.p==10"}],"mark":{"type":"rule","strokeDash":[5,3],"color":"white","strokeWidth":1},"encoding":{"x":{"field":"t","type":"quantitative","axis":null},"y":{"datum":0,"type":"quantitative","axis":{"orient":"right","style":"ymin","title":null}},"y2":{"datum":1000}}},
{"data":{"name":"cmds"},"transform":[{"filter":"datum.p==10"}],"mark":{"type":"text","baseline":"alphabetic","fontSize":8},"encoding":{"x":{"field":"t","type":"quantitative","axis":null},"y":{"datum":1014,"type":"quantitative","axis":null},"text":{"field":"s"}}},
{"data":{"name":"plab"},"transform":[{"filter":"datum.p==10"}],"mark":{"type":"text","align":"left","baseline":"middle","fontSize":10,"color":"#a0a0a0"},"encoding":{"x":{"datum":-4.79,"type":"quantitative","axis":null},"y":{"datum":897,"type":"quantitative","axis":null},"text":{"field":"s"}}}]},
{"width":609,"height":164.3,"resolve":{"axis":{"x":"independent","y":"independent"}},"layer":[
{"data":{"name":"nodata"},"transform":[{"filter":"datum.p==11"}],"mark":{"type":"rect","color":"#555555"},"encoding":{"x":{"field":"t","type":"quantitative","scale":{"domain":[0,60],"nice":false,"zero":false},"axis":{"orient":"bottom","style":"xmaj","title":null,"labelFlush":false,"labelOverlap":false,"labelExpr":"datum.value==0?['14:33:00','2','Dec','2020']:datum.value==60?'34:00':datum.label"}},"x2":{"field":"t2"},"y":{"field":"f","type":"quantitative","scale":{"domain":[0,1000],"nice":false,"zero":false},"axis":{"orient":"left","style":"ymaj","title":"Frequency (Hz)"}},"y2":{"field":"f2"}}},
{"data":{"name":"spec"},"transform":[{"filter":"datum.p==11"}],"mark":"rect","encoding":{"x":{"field":"t","type":"quantitative","axis":{"orient":"bottom","style":"xmin","title":null}},"x2":{"field":"t2"},"y":{"field":"f","type":"quantitative","axis":{"orient":"left","style":"ymin","title":null}},"y2":{"field":"f2"},"color":{"field":"v","type":"ordinal","scale":{"domain":[1,2,3,4,5,6,7],"range":["#0000ff","#0080ff","#00ffff","#00ff00","#ffff00","#ff8000","#ff0000"]},"legend":null}}},
{"data":{"name":"notes"},"transform":[{"filter":"datum.p==11"}],"mark":{"type":"text","baseline":"top","lineBreak":"\n","fontSize":7.5,"lineHeight":7},"encoding":{"x":{"field":"t","type":"quantitative","axis":null},"y":{"datum":-5,"type":"quantitative","axis":{"orient":"right","style":"ymaj","labels":false,"title":null}},"text":{"field":"s"}}},
{"data":{"name":"cmds"},"transform":[{"filter":"datum.p==11"}],"mark":{"type":"rule","strokeDash":[5,3],"color":"white","strokeWidth":1},"encoding":{"x":{"field":"t","type":"quantitative","axis":null},"y":{"datum":0,"type":"quantitative","axis":{"orient":"right","style":"ymin","title":null}},"y2":{"datum":1000}}},
{"data":{"name":"cmds"},"transform":[{"filter":"datum.p==11"}],"mark":{"type":"text","baseline":"alphabetic","fontSize":8},"encoding":{"x":{"field":"t","type":"quantitative","axis":null},"y":{"datum":1014,"type":"quantitative","axis":null},"text":{"field":"s"}}},
{"data":{"name":"plab"},"transform":[{"filter":"datum.p==11"}],"mark":{"type":"text","align":"left","baseline":"middle","fontSize":10,"color":"#a0a0a0"},"encoding":{"x":{"datum":-4.79,"type":"quantitative","axis":null},"y":{"datum":897,"type":"quantitative","axis":null},"text":{"field":"s"}}}]},
{"width":609,"height":164.3,"resolve":{"axis":{"x":"independent","y":"independent"}},"layer":[
{"data":{"name":"nodata"},"transform":[{"filter":"datum.p==12"}],"mark":{"type":"rect","color":"#555555"},"encoding":{"x":{"field":"t","type":"quantitative","scale":{"domain":[0,60],"nice":false,"zero":false},"axis":{"orient":"bottom","style":"xmaj","title":null,"labelFlush":false,"labelOverlap":false,"labelExpr":"datum.value==0?['14:34:00','2','Dec','2020']:datum.value==60?'35:00':datum.label"}},"x2":{"field":"t2"},"y":{"field":"f","type":"quantitative","scale":{"domain":[0,1000],"nice":false,"zero":false},"axis":{"orient":"left","style":"ymaj","title":"Frequency (Hz)"}},"y2":{"field":"f2"}}},
{"data":{"name":"spec"},"transform":[{"filter":"datum.p==12"}],"mark":"rect","encoding":{"x":{"field":"t","type":"quantitative","axis":{"orient":"bottom","style":"xmin","title":null}},"x2":{"field":"t2"},"y":{"field":"f","type":"quantitative","axis":{"orient":"left","style":"ymin","title":null}},"y2":{"field":"f2"},"color":{"field":"v","type":"ordinal","scale":{"domain":[1,2,3,4,5,6,7],"range":["#0000ff","#0080ff","#00ffff","#00ff00","#ffff00","#ff8000","#ff0000"]},"legend":null}}},
{"data":{"name":"notes"},"transform":[{"filter":"datum.p==12"}],"mark":{"type":"text","baseline":"top","lineBreak":"\n","fontSize":7.5,"lineHeight":7},"encoding":{"x":{"field":"t","type":"quantitative","axis":null},"y":{"datum":-5,"type":"quantitative","axis":{"orient":"right","style":"ymaj","labels":false,"title":null}},"text":{"field":"s"}}},
{"data":{"name":"cmds"},"transform":[{"filter":"datum.p==12"}],"mark":{"type":"rule","strokeDash":[5,3],"color":"white","strokeWidth":1},"encoding":{"x":{"field":"t","type":"quantitative","axis":null},"y":{"datum":0,"type":"quantitative","axis":{"orient":"right","style":"ymin","title":null}},"y2":{"datum":1000}}},
{"data":{"name":"cmds"},"transform":[{"filter":"datum.p==12"}],"mark":{"type":"text","baseline":"alphabetic","fontSize":8},"encoding":{"x":{"field":"t","type":"quantitative","axis":null},"y":{"datum":1014,"type":"quantitative","axis":null},"text":{"field":"s"}}},
{"data":{"name":"plab"},"transform":[{"filter":"datum.p==12"}],"mark":{"type":"text","align":"left","baseline":"middle","fontSize":10,"color":"#a0a0a0"},"encoding":{"x":{"datum":-4.79,"type":"quantitative","axis":null},"y":{"datum":897,"type":"quantitative","axis":null},"text":{"field":"s"}}}]},
{"width":609,"height":164.3,"resolve":{"axis":{"x":"independent","y":"independent"}},"layer":[
{"data":{"name":"nodata"},"transform":[{"filter":"datum.p==13"}],"mark":{"type":"rect","color":"#555555"},"encoding":{"x":{"field":"t","type":"quantitative","scale":{"domain":[0,60],"nice":false,"zero":false},"axis":{"orient":"bottom","style":"xmaj","title":null,"labelFlush":false,"labelOverlap":false,"labelExpr":"datum.value==0?['14:35:00','2','Dec','2020']:datum.value==60?'36:00':datum.label"}},"x2":{"field":"t2"},"y":{"field":"f","type":"quantitative","scale":{"domain":[0,1000],"nice":false,"zero":false},"axis":{"orient":"left","style":"ymaj","title":"Frequency (Hz)"}},"y2":{"field":"f2"}}},
{"data":{"name":"spec"},"transform":[{"filter":"datum.p==13"}],"mark":"rect","encoding":{"x":{"field":"t","type":"quantitative","axis":{"orient":"bottom","style":"xmin","title":null}},"x2":{"field":"t2"},"y":{"field":"f","type":"quantitative","axis":{"orient":"left","style":"ymin","title":null}},"y2":{"field":"f2"},"color":{"field":"v","type":"ordinal","scale":{"domain":[1,2,3,4,5,6,7],"range":["#0000ff","#0080ff","#00ffff","#00ff00","#ffff00","#ff8000","#ff0000"]},"legend":null}}},
{"data":{"name":"notes"},"transform":[{"filter":"datum.p==13"}],"mark":{"type":"text","baseline":"top","lineBreak":"\n","fontSize":7.5,"lineHeight":7},"encoding":{"x":{"field":"t","type":"quantitative","axis":null},"y":{"datum":-5,"type":"quantitative","axis":{"orient":"right","style":"ymaj","labels":false,"title":null}},"text":{"field":"s"}}},
{"data":{"name":"cmds"},"transform":[{"filter":"datum.p==13"}],"mark":{"type":"rule","strokeDash":[5,3],"color":"white","strokeWidth":1},"encoding":{"x":{"field":"t","type":"quantitative","axis":null},"y":{"datum":0,"type":"quantitative","axis":{"orient":"right","style":"ymin","title":null}},"y2":{"datum":1000}}},
{"data":{"name":"cmds"},"transform":[{"filter":"datum.p==13"}],"mark":{"type":"text","baseline":"alphabetic","fontSize":8},"encoding":{"x":{"field":"t","type":"quantitative","axis":null},"y":{"datum":1045,"type":"quantitative","axis":null},"text":{"field":"s"}}},
{"data":{"name":"plab"},"transform":[{"filter":"datum.p==13"}],"mark":{"type":"text","align":"left","baseline":"middle","fontSize":10,"color":"#a0a0a0"},"encoding":{"x":{"datum":-4.79,"type":"quantitative","axis":null},"y":{"datum":897,"type":"quantitative","axis":null},"text":{"field":"s"}}}]},
{"width":609,"height":164.3,"resolve":{"axis":{"x":"independent","y":"independent"}},"layer":[
{"data":{"name":"nodata"},"transform":[{"filter":"datum.p==14"}],"mark":{"type":"rect","color":"#555555"},"encoding":{"x":{"field":"t","type":"quantitative","scale":{"domain":[0,60],"nice":false,"zero":false},"axis":{"orient":"bottom","style":"xmaj","title":null,"labelFlush":false,"labelOverlap":false,"labelExpr":"datum.value==0?['14:36:00','2','Dec','2020']:datum.value==60?'37:00':datum.label"}},"x2":{"field":"t2"},"y":{"field":"f","type":"quantitative","scale":{"domain":[0,1000],"nice":false,"zero":false},"axis":{"orient":"left","style":"ymaj","title":"Frequency (Hz)"}},"y2":{"field":"f2"}}},
{"data":{"name":"spec"},"transform":[{"filter":"datum.p==14"}],"mark":"rect","encoding":{"x":{"field":"t","type":"quantitative","axis":{"orient":"bottom","style":"xmin","title":null}},"x2":{"field":"t2"},"y":{"field":"f","type":"quantitative","axis":{"orient":"left","style":"ymin","title":null}},"y2":{"field":"f2"},"color":{"field":"v","type":"ordinal","scale":{"domain":[1,2,3,4,5,6,7],"range":["#0000ff","#0080ff","#00ffff","#00ff00","#ffff00","#ff8000","#ff0000"]},"legend":null}}},
{"data":{"name":"notes"},"transform":[{"filter":"datum.p==14"}],"mark":{"type":"text","baseline":"top","lineBreak":"\n","fontSize":7.5,"lineHeight":7},"encoding":{"x":{"field":"t","type":"quantitative","axis":null},"y":{"datum":-5,"type":"quantitative","axis":{"orient":"right","style":"ymaj","labels":false,"title":null}},"text":{"field":"s"}}},
{"data":{"name":"cmds"},"transform":[{"filter":"datum.p==14"}],"mark":{"type":"rule","strokeDash":[5,3],"color":"white","strokeWidth":1},"encoding":{"x":{"field":"t","type":"quantitative","axis":null},"y":{"datum":0,"type":"quantitative","axis":{"orient":"right","style":"ymin","title":null}},"y2":{"datum":1000}}},
{"data":{"name":"cmds"},"transform":[{"filter":"datum.p==14"}],"mark":{"type":"text","baseline":"alphabetic","fontSize":8},"encoding":{"x":{"field":"t","type":"quantitative","axis":null},"y":{"datum":1014,"type":"quantitative","axis":null},"text":{"field":"s"}}},
{"data":{"name":"plab"},"transform":[{"filter":"datum.p==14"}],"mark":{"type":"text","align":"left","baseline":"middle","fontSize":10,"color":"#a0a0a0"},"encoding":{"x":{"datum":-4.79,"type":"quantitative","axis":null},"y":{"datum":897,"type":"quantitative","axis":null},"text":{"field":"s"}}}]},
{"width":609,"height":164.3,"resolve":{"axis":{"x":"independent","y":"independent"}},"layer":[
{"data":{"name":"nodata"},"transform":[{"filter":"datum.p==15"}],"mark":{"type":"rect","color":"#555555"},"encoding":{"x":{"field":"t","type":"quantitative","scale":{"domain":[0,60],"nice":false,"zero":false},"axis":{"orient":"bottom","style":"xmaj","title":null,"labelFlush":false,"labelOverlap":false,"labelExpr":"datum.value==0?['14:37:00','2','Dec','2020']:datum.value==60?'38:00':datum.label"}},"x2":{"field":"t2"},"y":{"field":"f","type":"quantitative","scale":{"domain":[0,1000],"nice":false,"zero":false},"axis":{"orient":"left","style":"ymaj","title":"Frequency (Hz)"}},"y2":{"field":"f2"}}},
{"data":{"name":"spec"},"transform":[{"filter":"datum.p==15"}],"mark":"rect","encoding":{"x":{"field":"t","type":"quantitative","axis":{"orient":"bottom","style":"xmin","title":null}},"x2":{"field":"t2"},"y":{"field":"f","type":"quantitative","axis":{"orient":"left","style":"ymin","title":null}},"y2":{"field":"f2"},"color":{"field":"v","type":"ordinal","scale":{"domain":[1,2,3,4,5,6,7],"range":["#0000ff","#0080ff","#00ffff","#00ff00","#ffff00","#ff8000","#ff0000"]},"legend":null}}},
{"data":{"name":"notes"},"transform":[{"filter":"datum.p==15"}],"mark":{"type":"text","baseline":"top","lineBreak":"\n","fontSize":7.5,"lineHeight":7},"encoding":{"x":{"field":"t","type":"quantitative","axis":null},"y":{"datum":-5,"type":"quantitative","axis":{"orient":"right","style":"ymaj","labels":false,"title":null}},"text":{"field":"s"}}},
{"data":{"name":"cmds"},"transform":[{"filter":"datum.p==15"}],"mark":{"type":"rule","strokeDash":[5,3],"color":"white","strokeWidth":1},"encoding":{"x":{"field":"t","type":"quantitative","axis":null},"y":{"datum":0,"type":"quantitative","axis":{"orient":"right","style":"ymin","title":null}},"y2":{"datum":1000}}},
{"data":{"name":"cmds"},"transform":[{"filter":"datum.p==15"}],"mark":{"type":"text","baseline":"alphabetic","fontSize":8},"encoding":{"x":{"field":"t","type":"quantitative","axis":null},"y":{"datum":1014,"type":"quantitative","axis":null},"text":{"field":"s"}}},
{"data":{"name":"plab"},"transform":[{"filter":"datum.p==15"}],"mark":{"type":"text","align":"left","baseline":"middle","fontSize":10,"color":"#a0a0a0"},"encoding":{"x":{"datum":-4.79,"type":"quantitative","axis":null},"y":{"datum":897,"type":"quantitative","axis":null},"text":{"field":"s"}}}]},
{"width":609,"height":164.3,"resolve":{"axis":{"x":"independent","y":"independent"}},"layer":[
{"data":{"name":"nodata"},"transform":[{"filter":"datum.p==16"}],"mark":{"type":"rect","color":"#555555"},"encoding":{"x":{"field":"t","type":"quantitative","scale":{"domain":[0,60],"nice":false,"zero":false},"axis":{"orient":"bottom","style":"xmaj","title":null,"labelFlush":false,"labelOverlap":false,"labelExpr":"datum.value==0?['14:38:00','2','Dec','2020']:datum.value==60?'39:00':datum.label"}},"x2":{"field":"t2"},"y":{"field":"f","type":"quantitative","scale":{"domain":[0,1000],"nice":false,"zero":false},"axis":{"orient":"left","style":"ymaj","title":"Frequency (Hz)"}},"y2":{"field":"f2"}}},
{"data":{"name":"spec"},"transform":[{"filter":"datum.p==16"}],"mark":"rect","encoding":{"x":{"field":"t","type":"quantitative","axis":{"orient":"bottom","style":"xmin","title":null}},"x2":{"field":"t2"},"y":{"field":"f","type":"quantitative","axis":{"orient":"left","style":"ymin","title":null}},"y2":{"field":"f2"},"color":{"field":"v","type":"ordinal","scale":{"domain":[1,2,3,4,5,6,7],"range":["#0000ff","#0080ff","#00ffff","#00ff00","#ffff00","#ff8000","#ff0000"]},"legend":null}}},
{"data":{"name":"notes"},"transform":[{"filter":"datum.p==16"}],"mark":{"type":"text","baseline":"top","lineBreak":"\n","fontSize":7.5,"lineHeight":7},"encoding":{"x":{"field":"t","type":"quantitative","axis":null},"y":{"datum":-5,"type":"quantitative","axis":{"orient":"right","style":"ymaj","labels":false,"title":null}},"text":{"field":"s"}}},
{"data":{"name":"cmds"},"transform":[{"filter":"datum.p==16"}],"mark":{"type":"rule","strokeDash":[5,3],"color":"white","strokeWidth":1},"encoding":{"x":{"field":"t","type":"quantitative","axis":null},"y":{"datum":0,"type":"quantitative","axis":{"orient":"right","style":"ymin","title":null}},"y2":{"datum":1000}}},
{"data":{"name":"cmds"},"transform":[{"filter":"datum.p==16"}],"mark":{"type":"text","baseline":"alphabetic","fontSize":8},"encoding":{"x":{"field":"t","type":"quantitative","axis":null},"y":{"datum":1014,"type":"quantitative","axis":null},"text":{"field":"s"}}},
{"data":{"name":"plab"},"transform":[{"filter":"datum.p==16"}],"mark":{"type":"text","align":"left","baseline":"middle","fontSize":10,"color":"#a0a0a0"},"encoding":{"x":{"datum":-4.79,"type":"quantitative","axis":null},"y":{"datum":897,"type":"quantitative","axis":null},"text":{"field":"s"}}}]},
{"width":609,"height":164.3,"resolve":{"axis":{"x":"independent","y":"independent"}},"layer":[
{"data":{"name":"nodata"},"transform":[{"filter":"datum.p==17"}],"mark":{"type":"rect","color":"#555555"},"encoding":{"x":{"field":"t","type":"quantitative","scale":{"domain":[0,60],"nice":false,"zero":false},"axis":{"orient":"bottom","style":"xmaj","title":null,"labelFlush":false,"labelOverlap":false,"labelExpr":"datum.value==0?['14:39:00','2','Dec','2020']:datum.value==60?'40:00':datum.label"}},"x2":{"field":"t2"},"y":{"field":"f","type":"quantitative","scale":{"domain":[0,1000],"nice":false,"zero":false},"axis":{"orient":"left","style":"ymaj","title":"Frequency (Hz)"}},"y2":{"field":"f2"}}},
{"data":{"name":"spec"},"transform":[{"filter":"datum.p==17"}],"mark":"rect","encoding":{"x":{"field":"t","type":"quantitative","axis":{"orient":"bottom","style":"xmin","title":null}},"x2":{"field":"t2"},"y":{"field":"f","type":"quantitative","axis":{"orient":"left","style":"ymin","title":null}},"y2":{"field":"f2"},"color":{"field":"v","type":"ordinal","scale":{"domain":[1,2,3,4,5,6,7],"range":["#0000ff","#0080ff","#00ffff","#00ff00","#ffff00","#ff8000","#ff0000"]},"legend":null}}},
{"data":{"name":"notes"},"transform":[{"filter":"datum.p==17"}],"mark":{"type":"text","baseline":"top","lineBreak":"\n","fontSize":7.5,"lineHeight":7},"encoding":{"x":{"field":"t","type":"quantitative","axis":null},"y":{"datum":-5,"type":"quantitative","axis":{"orient":"right","style":"ymaj","labels":false,"title":null}},"text":{"field":"s"}}},
{"data":{"name":"cmds"},"transform":[{"filter":"datum.p==17"}],"mark":{"type":"rule","strokeDash":[5,3],"color":"white","strokeWidth":1},"encoding":{"x":{"field":"t","type":"quantitative","axis":null},"y":{"datum":0,"type":"quantitative","axis":{"orient":"right","style":"ymin","title":null}},"y2":{"datum":1000}}},
{"data":{"name":"cmds"},"transform":[{"filter":"datum.p==17"}],"mark":{"type":"text","baseline":"alphabetic","fontSize":8},"encoding":{"x":{"field":"t","type":"quantitative","axis":null},"y":{"datum":1014,"type":"quantitative","axis":null},"text":{"field":"s"}}},
{"data":{"name":"plab"},"transform":[{"filter":"datum.p==17"}],"mark":{"type":"text","align":"left","baseline":"middle","fontSize":10,"color":"#a0a0a0"},"encoding":{"x":{"datum":-4.79,"type":"quantitative","axis":null},"y":{"datum":897,"type":"quantitative","axis":null},"text":{"field":"s"}}}]}
]}
